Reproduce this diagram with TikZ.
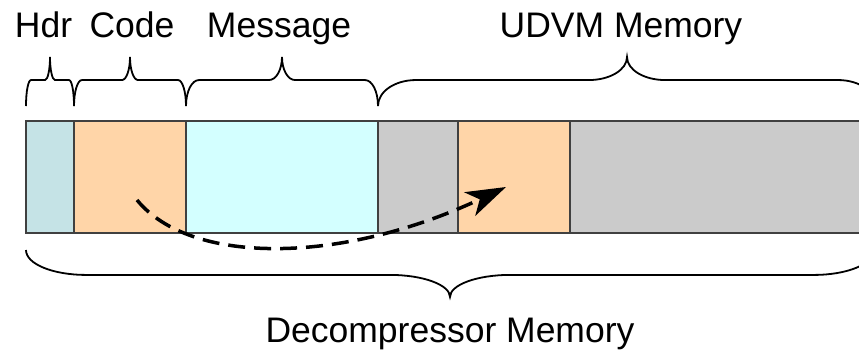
\documentclass[tikz,border=0pt]{standalone}
\usepackage{fontspec}
\setmainfont{Liberation Sans}
\usetikzlibrary{arrows.meta}

\definecolor{hdrfill}{RGB}{197,227,230}
\definecolor{codefill}{RGB}{255,213,168}
\definecolor{msgfill}{RGB}{211,255,255}
\definecolor{freefill}{RGB}{203,203,203}

% curly brace: left x, right x, curl width, base y, height (negative points up)
\newcommand{\membrace}[5]{%
  \draw[brace line] (#1,#4)
    .. controls (#1,{#4+0.3*(#5)}) and ({#1+0.45*#3},{#4+0.53*(#5)}) .. ({#1+#3},{#4+0.53*(#5)})
    -- ({(#1+#2)/2-#3},{#4+0.53*(#5)})
    .. controls ({(#1+#2)/2-0.45*#3},{#4+0.53*(#5)}) and ({(#1+#2)/2},{#4+0.74*(#5)}) .. ({(#1+#2)/2},{#4+#5})
    .. controls ({(#1+#2)/2},{#4+0.74*(#5)}) and ({(#1+#2)/2+0.45*#3},{#4+0.53*(#5)}) .. ({(#1+#2)/2+#3},{#4+0.53*(#5)})
    -- ({#2-#3},{#4+0.53*(#5)})
    .. controls ({#2-0.45*#3},{#4+0.53*(#5)}) and (#2,{#4+0.3*(#5)}) .. (#2,#4);}

\begin{document}
\begin{tikzpicture}[x=1pt,y=-1pt,
  block/.style={draw=black!75, line width=1.5pt, minimum height=112pt, inner sep=0pt, outer sep=0pt},
  brace line/.style={line width=1.8pt},
  lbl/.style={anchor=base, inner sep=0pt, font=\fontsize{35.5}{42}\selectfont},
  copyarrow/.style={line width=3.5pt, dash pattern=on 17pt off 9pt,
    -{Stealth[length=40pt, width=26pt, inset=11pt]}}]
\useasboundingbox (0,0) rectangle (859,349);

% memory layout
\node[block, fill=hdrfill, minimum width=48pt] (hdr) at (50,177) {};
\node[block, fill=codefill, minimum width=112pt] (code) at (130,177) {};
\node[block, fill=msgfill, minimum width=192pt] (msg) at (282,177) {};
\node[block, fill=freefill, minimum width=80pt] (freea) at (418,177) {};
\node[block, fill=codefill, minimum width=112pt] (copy) at (514,177) {};
\node[block, fill=freefill, minimum width=305pt] (freeb) at (722.5,177) {};

% braces and labels
\membrace{26}{74}{5}{106}{-49}
\membrace{74}{186}{8}{106}{-49}
\membrace{186}{378}{13}{106}{-49}
\membrace{378}{876}{38}{106}{-49}
\membrace{26}{874}{60}{250}{47}

\node[lbl] (hdrlbl) at (43.5,37) {Hdr};
\node[lbl] (codelbl) at (132,37) {Code};
\node[lbl] (msglbl) at (279,37) {Message};
\node[lbl] (udvmlbl) at (621,37) {UDVM Memory};
\node[lbl] (declbl) at (450,342) {Decompressor Memory};

% code copied into UDVM memory
\draw[copyarrow] ([xshift=7pt,yshift=-23pt]code.center)
  .. controls (190,265) and (340,265) .. ([xshift=-8pt,yshift=-10pt]copy.center);
\end{tikzpicture}
\end{document}
